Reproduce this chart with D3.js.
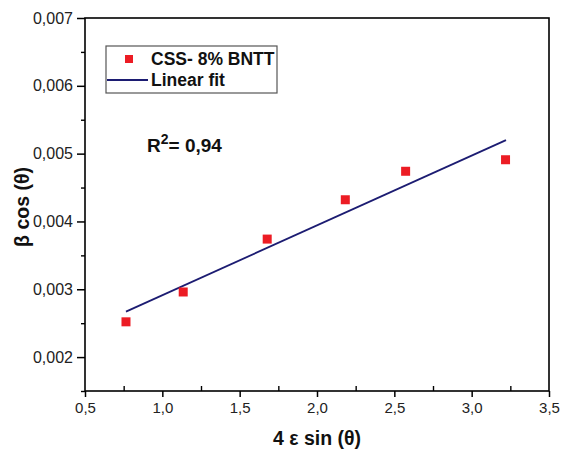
<!DOCTYPE html>
<html>
<head>
<meta charset="utf-8">
<script src="https://cdn.jsdelivr.net/npm/d3@7"></script>
<style>
  body { margin: 0; background: #fff; }
  svg { display: block; font-family: "Liberation Sans", Arial, sans-serif; }
  .tick text { fill: #222; }
</style>
</head>
<body>
<svg id="chart" width="562" height="451"></svg>
<script>
// data
const xValues = [0.765, 1.135, 1.678, 2.183, 2.573, 3.219];
const yValues = [0.00252, 0.00296, 0.00374, 0.00432, 0.00474, 0.00491];
const fitX = [0.765, 3.222];
const fitY = [0.00267, 0.00520];
const xTicks = [0.5, 1.0, 1.5, 2.0, 2.5, 3.0, 3.5];
const yTicks = [0.002, 0.003, 0.004, 0.005, 0.006, 0.007];
const seriesName = "CSS- 8% BNTT";
const fitName = "Linear fit";

const loc = d3.formatLocale({ decimal: ",", thousands: ".", grouping: [3], currency: ["", ""] });

const pLeft = 85, pRight = 549, pTop = 18, pBottom = 391;

const svg = d3.select("#chart");

const scX = d3.scaleLinear().domain([0.5, 3.5]).range([pLeft, pRight]);
const scY = d3.scaleLinear().domain([0.0015, 0.007]).range([pBottom, pTop]);

// frame
svg.append("rect")
   .attr("x", pLeft).attr("y", pTop)
   .attr("width", pRight - pLeft).attr("height", pBottom - pTop)
   .attr("fill", "none").attr("stroke", "#000").attr("stroke-width", 1.6);

// minor ticks
const xMinor = d3.range(0.75, 3.5, 0.5);
const yMinor = d3.range(0.0015, 0.007, 0.001);

svg.append("g")
   .attr("transform", `translate(0,${pBottom})`)
   .call(d3.axisBottom(scX).tickValues(xMinor).tickSize(-5).tickFormat(""))
   .call(g => g.select(".domain").remove())
   .selectAll("line").attr("stroke-width", 1.4);

svg.append("g")
   .attr("transform", `translate(${pLeft},0)`)
   .call(d3.axisLeft(scY).tickValues(yMinor).tickSize(4).tickFormat(""))
   .call(g => g.select(".domain").remove())
   .selectAll("line").attr("stroke-width", 1.4);

// main axes
svg.append("g")
   .attr("transform", `translate(0,${pBottom})`)
   .call(d3.axisBottom(scX).tickValues(xTicks).tickSize(6).tickPadding(5).tickFormat(loc.format(".1f")))
   .call(g => g.select(".domain").remove())
   .call(g => g.selectAll("line").attr("stroke-width", 1.5))
   .call(g => g.selectAll("text").attr("font-size", 15));

svg.append("g")
   .attr("transform", `translate(${pLeft},0)`)
   .call(d3.axisLeft(scY).tickValues(yTicks).tickSize(8).tickPadding(4).tickFormat(loc.format(".3f")))
   .call(g => g.select(".domain").remove())
   .call(g => g.selectAll("line").attr("stroke-width", 1.5))
   .call(g => g.selectAll("text").attr("font-size", 16));

// fit line
svg.append("line")
   .attr("x1", scX(fitX[0])).attr("y1", scY(fitY[0]))
   .attr("x2", scX(fitX[1])).attr("y2", scY(fitY[1]))
   .attr("stroke", "#1c1c72").attr("stroke-width", 1.8);

// points
const sq = 9;
svg.selectAll("rect.pt")
   .data(d3.zip(xValues, yValues))
   .join("rect")
   .attr("class", "pt")
   .attr("x", d => scX(d[0]) - sq / 2)
   .attr("y", d => scY(d[1]) - sq / 2)
   .attr("width", sq).attr("height", sq)
   .attr("fill", "#ec1c24");

// legend
const lg = svg.append("g");
lg.append("rect")
  .attr("x", 106).attr("y", 46).attr("width", 171).attr("height", 47)
  .attr("fill", "#fff").attr("stroke", "#555").attr("stroke-width", 1.2);
lg.append("rect")
  .attr("x", 125).attr("y", 55).attr("width", 8).attr("height", 8)
  .attr("fill", "#ec1c24");
lg.append("text")
  .attr("x", 151).attr("y", 65)
  .attr("font-size", 17.5).attr("font-weight", "bold").attr("fill", "#111")
  .text(seriesName);
lg.append("line")
  .attr("x1", 107).attr("x2", 148).attr("y1", 80).attr("y2", 80)
  .attr("stroke", "#1c1c72").attr("stroke-width", 1.8);
lg.append("text")
  .attr("x", 151).attr("y", 86)
  .attr("font-size", 17.5).attr("font-weight", "bold").attr("fill", "#111")
  .text(fitName);

// R squared
const r2 = svg.append("text")
  .attr("x", 147).attr("y", 152)
  .attr("font-size", 19).attr("font-weight", "bold").attr("fill", "#111");
r2.append("tspan").text("R");
r2.append("tspan").attr("dy", -8).attr("font-size", 14).text("2");
r2.append("tspan").attr("dy", 8).text("= 0,94");

// axis titles
svg.append("text")
   .attr("x", (pLeft + pRight) / 2).attr("y", 445)
   .attr("text-anchor", "middle")
   .attr("font-size", 19.5).attr("font-weight", "bold").attr("fill", "#111")
   .text("4 \u03b5 sin (\u03b8)");

svg.append("text")
   .attr("transform", "translate(29,207) rotate(-90)")
   .attr("text-anchor", "middle")
   .attr("font-size", 19.5).attr("font-weight", "bold").attr("fill", "#111")
   .text("\u03b2 cos (\u03b8)");
</script>
</body>
</html>
